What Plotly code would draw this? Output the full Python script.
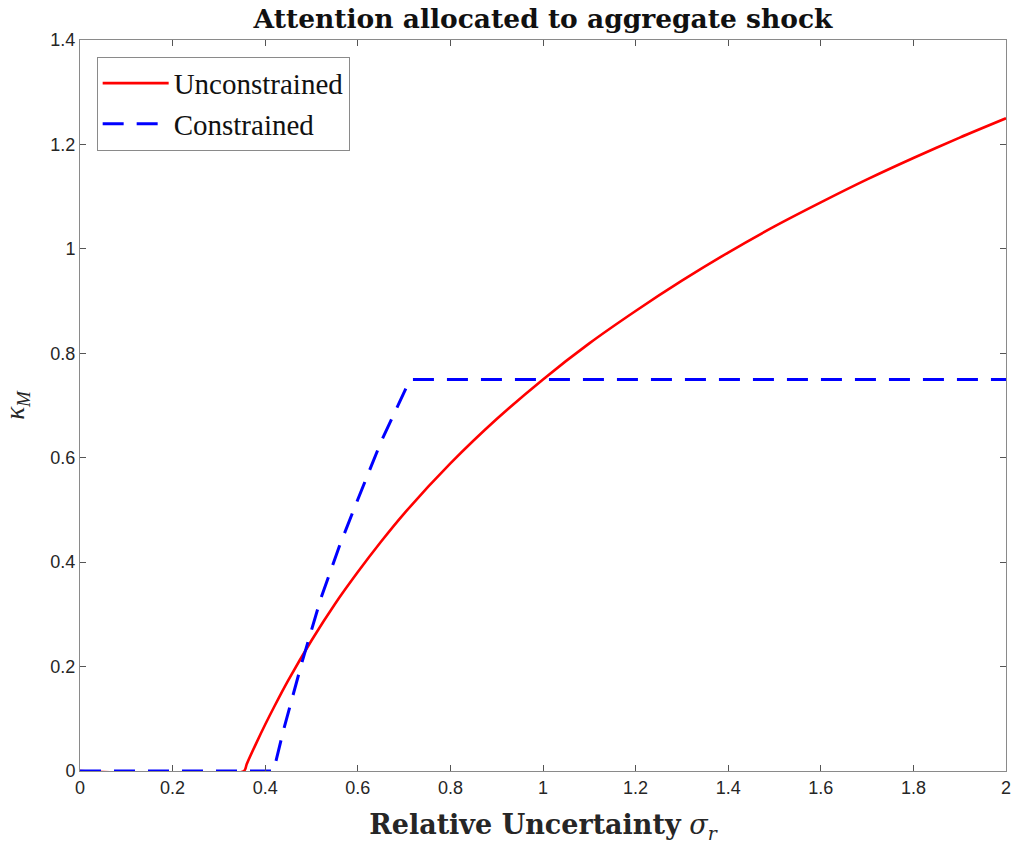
import plotly.graph_objects as go

# Unconstrained (red solid)
sigma_u = [0.0, 0.354, 0.36, 0.38, 0.40, 0.42, 0.45, 0.5, 0.55, 0.6, 0.65, 0.7, 0.8, 0.9, 1.0,
           1.1, 1.2, 1.3, 1.4, 1.5, 1.6, 1.7, 1.8, 1.9, 2.0]
kappa_u = [0.0, 0.0, 0.013, 0.052, 0.089, 0.124, 0.174, 0.25, 0.319, 0.381, 0.439, 0.493,
           0.589, 0.674, 0.750, 0.819, 0.881, 0.939, 0.993, 1.043, 1.089, 1.133, 1.174,
           1.213, 1.250]

# Constrained (blue dashed)
sigma_c = [0.0, 0.418, 0.44, 0.48, 0.52, 0.56, 0.6, 0.65, 0.713, 2.0]
kappa_c = [0.0, 0.0, 0.08, 0.21, 0.33, 0.43, 0.52, 0.63, 0.75, 0.75]

x_ticks = [0, 0.2, 0.4, 0.6, 0.8, 1, 1.2, 1.4, 1.6, 1.8, 2]
x_tick_labels = ["0", "0.2", "0.4", "0.6", "0.8", "1", "1.2", "1.4", "1.6", "1.8", "2"]
y_ticks = [0, 0.2, 0.4, 0.6, 0.8, 1, 1.2, 1.4]
y_tick_labels = ["0", "0.2", "0.4", "0.6", "0.8", "1", "1.2", "1.4"]

fig = go.Figure()
fig.add_trace(go.Scatter(x=sigma_u, y=kappa_u, mode="lines", name="Unconstrained",
                         line=dict(color="#ff0000", width=2.6, shape="spline", smoothing=0.8)))
fig.add_trace(go.Scatter(x=sigma_c, y=kappa_c, mode="lines", name="Constrained",
                         line=dict(color="#0000ff", width=3, dash="21px,13px")))

axis_common = dict(showgrid=False, zeroline=False, showline=True, linecolor="#8a8a8a",
                   linewidth=1, mirror="ticks", ticks="inside", ticklen=6,
                   tickcolor="#555555", tickwidth=1, automargin=False,
                   ticklabeloverflow="allow",
                   tickfont=dict(family="Liberation Sans, Arial", size=18, color="#262626"))

fig.update_layout(
    width=1015, height=846,
    margin=dict(l=80, r=9, t=40, b=75),
    paper_bgcolor="white", plot_bgcolor="white",
    title=dict(text="<b>Attention allocated to aggregate shock</b>",
               font=dict(family="DejaVu Serif, Liberation Serif, serif", size=26.5, color="#111111"),
               x=0.535, xanchor="center", y=0.978, yanchor="middle"),
    xaxis=dict(range=[0, 2], tickvals=x_ticks, ticktext=x_tick_labels,
               title=dict(text="<b>Relative Uncertainty</b> <i>σ<sub>r</sub></i>",
                          font=dict(family="DejaVu Serif, Liberation Serif, serif", size=27, color="#262626"),
                          standoff=18),
               **axis_common),
    yaxis=dict(range=[0, 1.4], tickvals=y_ticks, ticktext=y_tick_labels,
               title=dict(text="<i>κ<sub>M</sub></i>",
                          font=dict(family="Liberation Serif, serif", size=27, color="#262626"),
                          standoff=20),
               **axis_common),
    legend=dict(x=0.018, y=0.977, xanchor="left", yanchor="top",
                bgcolor="white", bordercolor="#8a8a8a", borderwidth=1,
                font=dict(family="Liberation Serif, Times New Roman, serif", size=29, color="#111111"),
                itemwidth=66, tracegroupgap=0),
    showlegend=True,
)

fig.write_html("out.html", config={"displayModeBar": False},
               post_script="document.body.style.margin='0px';")
